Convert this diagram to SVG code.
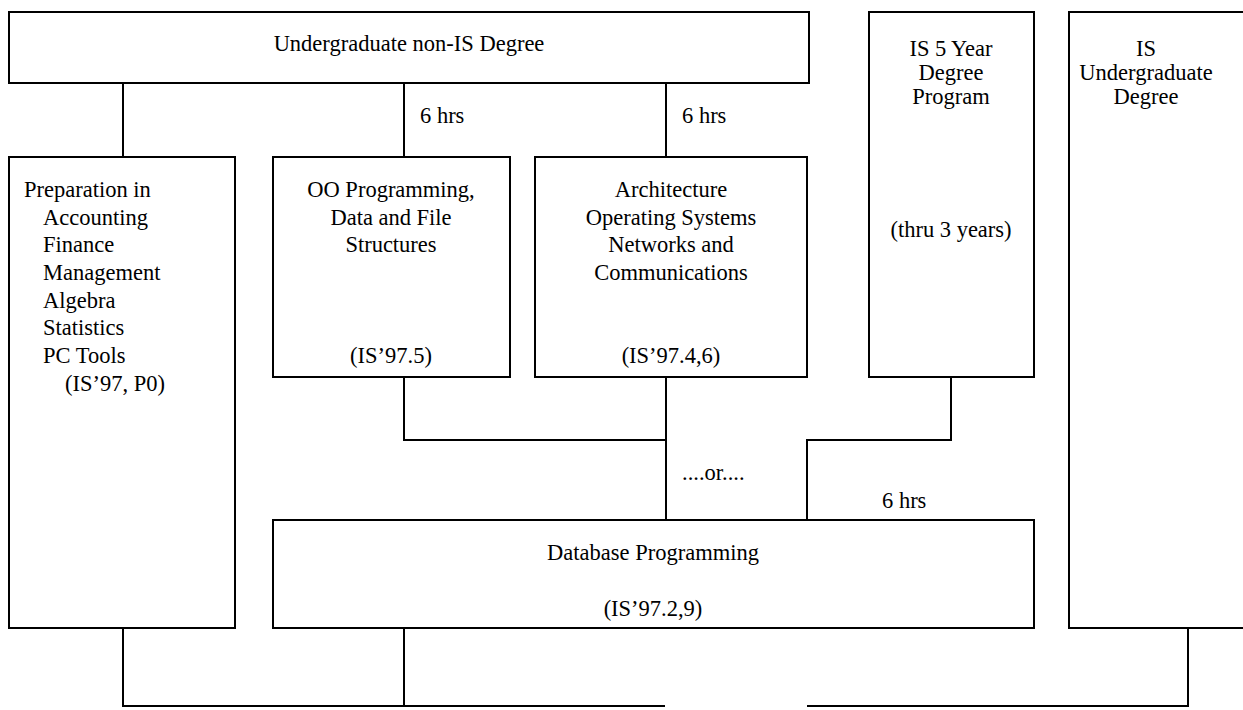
<svg xmlns="http://www.w3.org/2000/svg" width="1243" height="710" viewBox="0 0 1243 710">
<style>
.box{fill:none;stroke:#000;stroke-width:2}
.ln{fill:none;stroke:#000;stroke-width:2}
text{font-family:"Liberation Serif","Times New Roman",serif;font-size:22.5px;fill:#000}
.c{text-anchor:middle}
</style>
<rect width="1243" height="710" fill="#fff"/>
<g id="connectors">
<path class="ln" d="M123 83V157"/>
<path class="ln" d="M404 83V157"/>
<path class="ln" d="M666 83V157"/>
<path class="ln" d="M404 377V440H666"/>
<path class="ln" d="M666 377V520"/>
<path class="ln" d="M951 377V440H807V520"/>
<path class="ln" d="M123 628V706H665"/>
<path class="ln" d="M404 628V706"/>
<path class="ln" d="M807 706H1188V628"/>
<text x="420" y="123">6 hrs</text>
<text x="682" y="123">6 hrs</text>
<text x="682" y="480">....or....</text>
<text x="882" y="508">6 hrs</text>
</g>
<g id="undergrad-non-is">
<rect class="box" x="9" y="12" width="800" height="71"/>
<text class="c" x="409" y="51">Undergraduate non-IS Degree</text>
</g>
<g id="preparation">
<rect class="box" x="9" y="157" width="226" height="471"/>
<text x="24" y="197">Preparation in</text>
<text x="43" y="225">Accounting</text>
<text x="43" y="252">Finance</text>
<text x="43" y="280">Management</text>
<text x="43" y="308">Algebra</text>
<text x="43" y="335">Statistics</text>
<text x="43" y="363">PC Tools</text>
<text x="65" y="391">(IS’97, P0)</text>
</g>
<g id="oo-programming">
<rect class="box" x="273" y="157" width="237" height="220"/>
<text class="c" x="391" y="197">OO Programming,</text>
<text class="c" x="391" y="225">Data and File</text>
<text class="c" x="391" y="252">Structures</text>
<text class="c" x="391" y="363">(IS’97.5)</text>
</g>
<g id="architecture">
<rect class="box" x="535" y="157" width="272" height="220"/>
<text class="c" x="671" y="197">Architecture</text>
<text class="c" x="671" y="225">Operating Systems</text>
<text class="c" x="671" y="252">Networks and</text>
<text class="c" x="671" y="280">Communications</text>
<text class="c" x="671" y="363">(IS’97.4,6)</text>
</g>
<g id="is-5-year">
<rect class="box" x="869" y="12" width="165" height="365"/>
<text class="c" x="951" y="56">IS 5 Year</text>
<text class="c" x="951" y="80">Degree</text>
<text class="c" x="951" y="104">Program</text>
<text class="c" x="951" y="237">(thru 3 years)</text>
</g>
<g id="is-undergrad">
<rect class="box" x="1069" y="12" width="190" height="616"/>
<text class="c" x="1146" y="56">IS</text>
<text class="c" x="1146" y="80">Undergraduate</text>
<text class="c" x="1146" y="104">Degree</text>
</g>
<g id="database">
<rect class="box" x="273" y="520" width="761" height="108"/>
<text class="c" x="653" y="560">Database Programming</text>
<text class="c" x="653" y="616">(IS’97.2,9)</text>
</g>
</svg>
